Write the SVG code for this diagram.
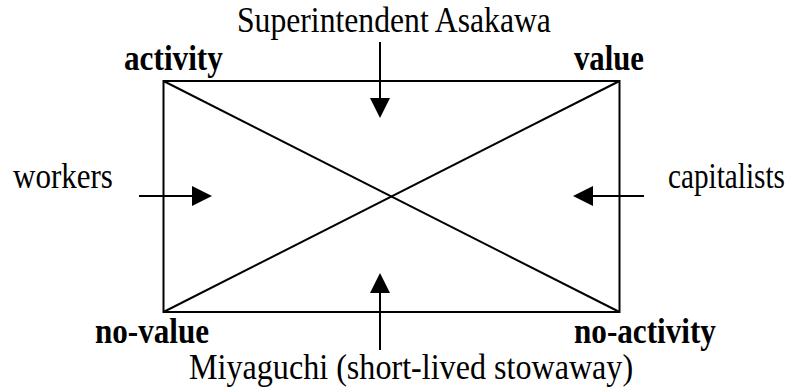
<svg xmlns="http://www.w3.org/2000/svg" width="797" height="387" viewBox="0 0 797 387">
  <defs>
    <style>
      .t { font-family: "Liberation Serif", "Times New Roman", serif; font-size: 36px; fill: #000; }
      .b { font-family: "Liberation Serif", "Times New Roman", serif; font-size: 36px; font-weight: bold; fill: #000; }
      .ln { stroke: #000; stroke-width: 2; fill: none; }
      .hd { fill: #000; }
    </style>
  </defs>
  <rect width="797" height="387" fill="#fff"/>

  <!-- square with its two diagonals -->
  <g id="square">
    <rect class="ln" x="163.5" y="81" width="456" height="231"/>
    <line class="ln" x1="163.5" y1="81" x2="619.5" y2="312"/>
    <line class="ln" x1="619.5" y1="81" x2="163.5" y2="312"/>
  </g>

  <!-- corner labels (narrowed serif type) -->
  <g id="corner-activity"><text class="b" transform="translate(124,70) scale(0.868,1)">activity</text></g>
  <g id="corner-value"><text class="b" transform="translate(574,70) scale(0.854,1)">value</text></g>
  <g id="corner-no-value"><text class="b" transform="translate(95,343) scale(0.864,1)">no-value</text></g>
  <g id="corner-no-activity"><text class="b" transform="translate(574,343) scale(0.866,1)">no-activity</text></g>

  <!-- actors -->
  <g id="asakawa"><text class="t" transform="translate(237,32) scale(0.88,1)">Superintendent Asakawa</text></g>
  <g id="workers"><text class="t" transform="translate(13,188) scale(0.862,1)">workers</text></g>
  <g id="capitalists"><text class="t" transform="translate(668,188) scale(0.8125,1)">capitalists</text></g>
  <g id="miyaguchi"><text class="t" transform="translate(189,379) scale(0.892,1)">Miyaguchi (short-lived stowaway)</text></g>

  <!-- arrows pointing into the square -->
  <g id="connectors">
    <path d="M380,42 V99" class="ln"/>
    <polygon class="hd" points="370,98 390,98 380,118"/>
    <path d="M380,350 V292" class="ln"/>
    <polygon class="hd" points="370,293 390,293 380,273"/>
    <path d="M139,196 H193" class="ln"/>
    <polygon class="hd" points="192,186 192,206 212,196"/>
    <path d="M644,196 H592" class="ln"/>
    <polygon class="hd" points="593,186 593,206 573,196"/>
  </g>
</svg>
